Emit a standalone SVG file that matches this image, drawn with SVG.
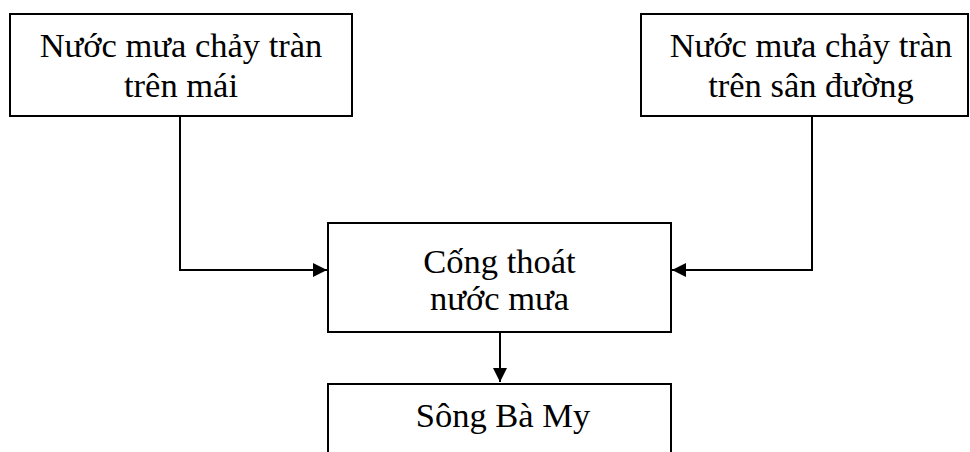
<svg xmlns="http://www.w3.org/2000/svg" width="970" height="452" viewBox="0 0 970 452">
<style>
.box{fill:#fff;stroke:#000;stroke-width:2}
.lbl{font-family:"Liberation Serif","Times New Roman",serif;font-size:34.5px;fill:#000;text-anchor:middle}
.con{fill:none;stroke:#000;stroke-width:2}
</style>
<defs>
<marker id="arr" markerWidth="14" markerHeight="14" refX="14" refY="7" orient="auto" markerUnits="userSpaceOnUse">
<path d="M0,0 L14,7 L0,14 Z" fill="#000"/>
</marker>
</defs>
<rect width="970" height="452" fill="#fff"/>
<g id="connectors">
<path class="con" d="M180,116 V270 H327" marker-end="url(#arr)"/>
<path class="con" d="M812,116 V270 H672" marker-end="url(#arr)"/>
<path class="con" d="M500,332 V382" marker-end="url(#arr)"/>
</g>
<g id="node-roof">
<rect class="box" x="10" y="14" width="342" height="102"/>
<text class="lbl" x="181" y="57">Nước mưa chảy tràn</text>
<text class="lbl" x="181" y="97">trên mái</text>
</g>
<g id="node-yard">
<rect class="box" x="641" y="14" width="327" height="102"/>
<text class="lbl" x="811" y="57">Nước mưa chảy tràn</text>
<text class="lbl" x="811" y="97">trên sân đường</text>
</g>
<g id="node-drain">
<rect class="box" x="328" y="223" width="343" height="109"/>
<text class="lbl" x="499.5" y="273">Cống thoát</text>
<text class="lbl" x="499.5" y="310">nước mưa</text>
</g>
<g id="node-river">
<rect class="box" x="328" y="384" width="343" height="90"/>
<text class="lbl" x="503" y="427">Sông Bà My</text>
</g>
</svg>
